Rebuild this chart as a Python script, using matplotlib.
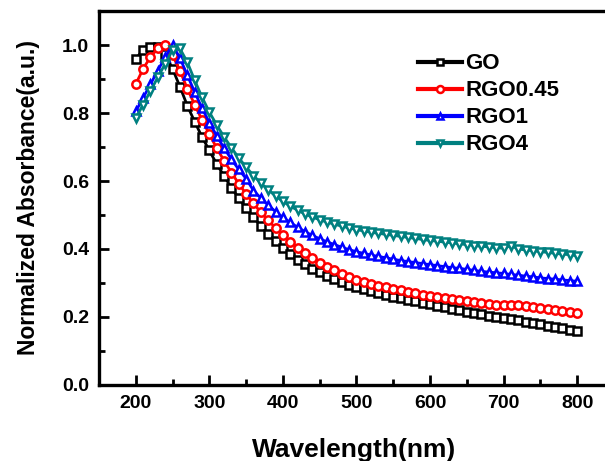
import numpy as np
import matplotlib
matplotlib.use("Agg")
import matplotlib.pyplot as plt
from matplotlib.ticker import MultipleLocator

plt.rcParams["font.family"] = ["Liberation Sans", "DejaVu Sans"]
plt.rcParams["font.weight"] = "bold"

wavelength = np.arange(200, 801, 10)

go = [0.960, 0.985, 0.995, 0.995, 0.975, 0.930, 0.878, 0.822, 0.775, 0.730,
      0.690, 0.650, 0.615, 0.580, 0.550, 0.520, 0.493, 0.468, 0.445, 0.423,
      0.403, 0.385, 0.369, 0.355, 0.342, 0.331, 0.320, 0.311, 0.302, 0.294,
      0.287, 0.281, 0.275, 0.270, 0.265, 0.260, 0.255, 0.250, 0.246, 0.241,
      0.237, 0.233, 0.228, 0.224, 0.220, 0.216, 0.212, 0.209, 0.203, 0.199,
      0.196, 0.193, 0.190, 0.186, 0.182, 0.178, 0.174, 0.170, 0.167, 0.163,
      0.160]

rgo045 = [0.885, 0.930, 0.965, 0.990, 1.000, 0.970, 0.925, 0.872, 0.825, 0.780,
          0.738, 0.697, 0.660, 0.625, 0.592, 0.562, 0.534, 0.508, 0.484, 0.462,
          0.441, 0.422, 0.404, 0.388, 0.373, 0.360, 0.348, 0.337, 0.327, 0.318,
          0.310, 0.303, 0.297, 0.292, 0.287, 0.282, 0.278, 0.274, 0.270, 0.266,
          0.263, 0.260, 0.256, 0.253, 0.250, 0.247, 0.244, 0.241, 0.238, 0.236,
          0.234, 0.236, 0.234, 0.231, 0.228, 0.225, 0.222, 0.220, 0.217, 0.215,
          0.213]

rgo1 = [0.805, 0.845, 0.885, 0.925, 0.965, 1.000, 0.962, 0.912, 0.862, 0.815,
        0.772, 0.733, 0.697, 0.664, 0.634, 0.607, 0.572, 0.550, 0.529, 0.510,
        0.493, 0.478, 0.464, 0.451, 0.440, 0.430, 0.421, 0.413, 0.405, 0.398,
        0.392, 0.387, 0.382, 0.378, 0.374, 0.370, 0.366, 0.363, 0.360, 0.357,
        0.354, 0.351, 0.348, 0.345, 0.343, 0.340, 0.337, 0.334, 0.332, 0.330,
        0.328, 0.325, 0.323, 0.320, 0.318, 0.315, 0.313, 0.311, 0.309, 0.307,
        0.305]

rgo4 = [0.785, 0.825, 0.865, 0.905, 0.945, 0.985, 0.990, 0.950, 0.897, 0.847,
        0.803, 0.765, 0.730, 0.698, 0.668, 0.641, 0.616, 0.594, 0.574, 0.556,
        0.540, 0.526, 0.514, 0.503, 0.494, 0.486, 0.479, 0.473, 0.467, 0.462,
        0.457, 0.453, 0.449, 0.446, 0.443, 0.440, 0.437, 0.434, 0.431, 0.428,
        0.425, 0.423, 0.420, 0.418, 0.415, 0.413, 0.410, 0.408, 0.406, 0.404,
        0.402, 0.410, 0.400, 0.397, 0.395, 0.392, 0.390, 0.387, 0.385, 0.383,
        0.380]

series = [
    ("GO", go, "black", "s"),
    ("RGO0.45", rgo045, "#ff0000", "o"),
    ("RGO1", rgo1, "#0000ff", "^"),
    ("RGO4", rgo4, "#008080", "v"),
]

fig = plt.figure(figsize=(6.05, 4.61), dpi=100)
ax = fig.add_axes([0.1636, 0.165, 0.845, 0.811])

for label, values, color, marker in series:
    ax.plot(
        wavelength,
        values,
        color=color,
        linewidth=2,
        marker=marker,
        markersize=6,
        markerfacecolor="white",
        markeredgecolor=color,
        markeredgewidth=1.8,
        label=label
    )

ax.set_xlim(150, 845)
ax.set_ylim(0, 1.1)

ax.xaxis.set_major_locator(MultipleLocator(100))
ax.xaxis.set_minor_locator(MultipleLocator(50))
ax.yaxis.set_major_locator(MultipleLocator(0.2))
ax.yaxis.set_minor_locator(MultipleLocator(0.1))

ax.tick_params(which="major", direction="in", length=7, width=2, labelsize=14, pad=7)
ax.tick_params(which="minor", direction="in", length=4, width=2)
ax.xaxis.set_major_formatter(plt.FuncFormatter(lambda v, p: f"{v:.0f}"))
ax.yaxis.set_major_formatter(plt.FuncFormatter(lambda v, p: f"{v:.1f}"))

for spine in ax.spines.values():
    spine.set_linewidth(2.4)

ax.set_xlabel("Wavelength(nm)", fontsize=19, fontweight="bold", labelpad=19)
ax.set_ylabel("Normalized Absorbance(a.u.)", fontsize=16.5, fontweight="bold", labelpad=16)

leg = ax.legend(
    loc="upper left",
    bbox_to_anchor=(0.585, 0.94),
    frameon=False,
    fontsize=16,
    handlelength=2.0,
    handletextpad=0.12,
    labelspacing=0.27
)
for line in leg.get_lines():
    line.set_linewidth(3)
    line.set_markersize(5)

fig.savefig("out.png", dpi=100)
